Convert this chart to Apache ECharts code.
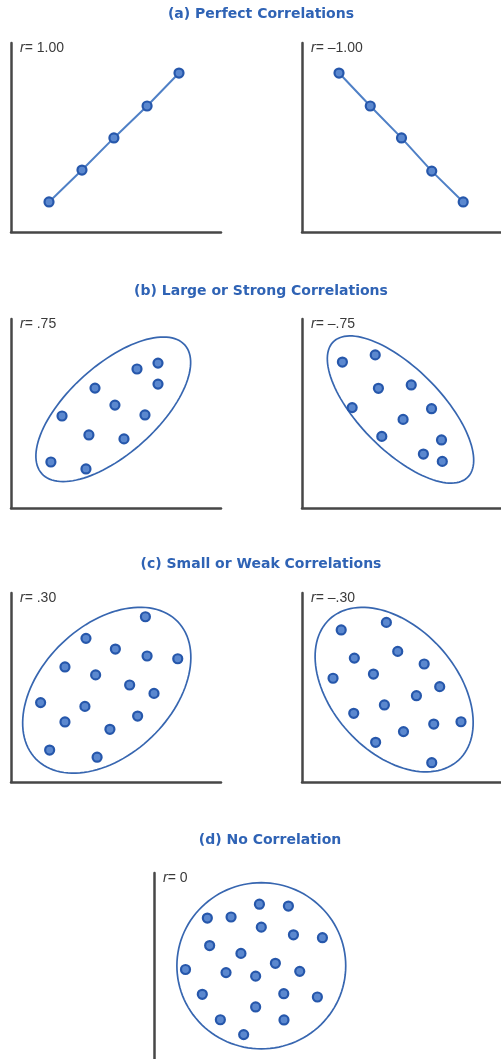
<!DOCTYPE html>
<html>
<head>
<meta charset="utf-8">
<title>Correlations</title>
<script src="https://cdn.jsdelivr.net/npm/echarts@6/dist/echarts.min.js"></script>
<style>
    html, body { margin: 0; padding: 0; background: #ffffff; }
    #chart { width: 501px; height: 1059px; }
</style>
</head>
<body>
<div id="chart"></div>
<script>
/*
|--------------------------------------------------------------------------
| Data (x 0..10, y 0..9 on every panel)
|--------------------------------------------------------------------------
*/

const sectionTitles = [
    '(a) Perfect Correlations',
    '(b) Large or Strong Correlations',
    '(c) Small or Weak Correlations',
    '(d) No Correlation',
];

const panelLabels = ['1.00', '\u20131.00', '.75', '\u2013.75', '.30', '\u2013.30', '0'];

const perfectPositive = [[1.81, 1.43], [3.38, 2.95], [4.9, 4.48], [6.48, 6.0], [8.0, 7.57]];
const perfectNegative = [[1.86, 7.57], [3.43, 6.0], [5.0, 4.48], [6.52, 2.9], [8.1, 1.43]];

const strongPositive = [
    [1.9, 2.19], [3.57, 1.86], [2.43, 4.38], [3.71, 3.48], [4.0, 5.71], [4.95, 4.9],
    [5.38, 3.29], [6.0, 6.62], [7.0, 6.9], [7.0, 5.9], [6.38, 4.43],
];
const strongNegative = [
    [2.03, 6.95], [3.68, 7.29], [3.84, 5.7], [5.49, 5.86], [2.52, 4.78], [6.51, 4.73],
    [5.08, 4.22], [4.01, 3.41], [7.01, 3.24], [6.1, 2.57], [7.05, 2.22],
];

const weakPositive = [
    [6.4, 7.87], [3.57, 6.84], [4.97, 6.33], [6.48, 6.0], [7.94, 5.87], [2.57, 5.48],
    [4.03, 5.1], [5.65, 4.62], [6.81, 4.22], [1.41, 3.78], [3.52, 3.6], [2.57, 2.86],
    [6.03, 3.14], [4.71, 2.51], [1.84, 1.52], [4.1, 1.18],
];
const weakNegative = [
    [1.97, 7.24], [4.24, 7.6], [4.81, 6.22], [2.63, 5.9], [6.14, 5.62], [3.59, 5.14],
    [1.56, 4.94], [6.92, 4.54], [5.75, 4.11], [4.14, 3.67], [2.6, 3.27], [7.99, 2.87],
    [6.62, 2.76], [5.1, 2.4], [3.7, 1.89], [6.52, 0.92],
];

const noCorrelation = [
    [5.02, 7.49], [6.4, 7.4], [2.54, 6.82], [3.67, 6.87], [5.11, 6.38], [6.64, 6.01],
    [8.02, 5.87], [2.65, 5.49], [4.14, 5.11], [5.78, 4.63], [1.5, 4.33], [3.43, 4.18],
    [4.84, 4.01], [6.94, 4.24], [2.3, 3.13], [6.18, 3.16], [7.78, 3.0], [4.84, 2.52],
    [3.16, 1.9], [6.19, 1.89], [4.27, 1.18],
];

// Envelopes: [centerX, centerY, semiMajor, semiMinor, angle in degrees]
const envelopes = [
    null,
    null,
    [4.87, 4.7, 4.58, 2.11, 42],
    [4.95, 4.69, 4.67, 2.0, -43],
    [4.56, 4.37, 4.7, 3.09, 44],
    [4.63, 4.4, 4.67, 3.05, -44],
    [5.11, 4.51, 4.02, 4.02, 0],
];

/*
|--------------------------------------------------------------------------
| Layout & styles
|--------------------------------------------------------------------------
*/

const panelPoints = [
    perfectPositive, perfectNegative,
    strongPositive, strongNegative,
    weakPositive, weakNegative,
    noCorrelation,
];

// Grid boxes of the 7 panels (left, top)
const panelBoxes = [
    [11, 43], [302, 43],
    [11, 319], [302, 319],
    [11, 593], [302, 593],
    [154, 873],
];
const PANEL_W = 210;
const PANEL_H = 189;

const titleCenters = [[261, 7], [261, 284], [261, 557], [270, 833]];

const blue = '#2f63b5';
const dotFill = '#5b88cf';
const dotBorder = '#2657ab';
const axisColor = '#474747';
const labelFont = 'Liberation Sans, Arial, sans-serif';

/*
|--------------------------------------------------------------------------
| Options
|--------------------------------------------------------------------------
*/

function ellipseRenderItem(params, api) {
    const c = api.coord([api.value(0), api.value(1)]);
    const s = api.size([1, 1]);
    const a = api.value(2);
    const b = api.value(3);
    const t = api.value(4) * Math.PI / 180;
    const points = [];
    for (let k = 0; k < 120; k++) {
        const u = 2 * Math.PI * k / 120;
        const dx = a * Math.cos(u) * Math.cos(t) - b * Math.sin(u) * Math.sin(t);
        const dy = a * Math.cos(u) * Math.sin(t) + b * Math.sin(u) * Math.cos(t);
        points.push([c[0] + dx * s[0], c[1] - dy * s[1]]);
    }
    return {
        type: 'polygon',
        shape: { points },
        style: { fill: 'none', stroke: '#3766b0', lineWidth: 1.7 },
    };
}

function buildOption() {
    const grid = [], xAxis = [], yAxis = [], series = [], title = [];

    const plainAxis = {
        type: 'value',
        axisLine: { show: true, onZero: false, lineStyle: { color: axisColor, width: 2.5 } },
        axisTick: { show: false },
        axisLabel: { show: false },
        splitLine: { show: false },
    };

    sectionTitles.forEach((text, i) => {
        title.push({
            text,
            left: titleCenters[i][0],
            top: titleCenters[i][1],
            textAlign: 'center',
            padding: 0,
            textStyle: {
                fontFamily: 'DejaVu Sans, sans-serif',
                fontSize: 14,
                fontWeight: 'bold',
                color: blue,
            },
        });
    });

    panelBoxes.forEach(([left, top], i) => {
        grid.push({ left, top, width: PANEL_W, height: PANEL_H, containLabel: false });
        xAxis.push({ ...plainAxis, gridIndex: i, min: 0, max: 10 });
        yAxis.push({ ...plainAxis, gridIndex: i, min: 0, max: 9 });

        // Bottom panel: the x axis falls below the picture
        if (i === 6) xAxis[i].axisLine = { show: false };

        title.push({
            text: `{i|r}{n|= ${panelLabels[i]}}`,
            left: left + 9,
            top: top - 2,
            padding: 0,
            textStyle: {
                rich: {
                    i: { fontFamily: labelFont, fontStyle: 'italic', fontWeight: 'normal', fontSize: 14, color: '#3a3a3a' },
                    n: { fontFamily: labelFont, fontWeight: 'normal', fontSize: 14, color: '#3a3a3a' },
                },
            },
        });

        // Perfect correlations are joined by a line
        if (i < 2) {
            series.push({
                type: 'line',
                xAxisIndex: i,
                yAxisIndex: i,
                data: panelPoints[i],
                symbol: 'none',
                lineStyle: { color: '#4f80c6', width: 2 },
                silent: true,
                z: 2,
            });
        }

        if (envelopes[i]) {
            series.push({
                type: 'custom',
                xAxisIndex: i,
                yAxisIndex: i,
                data: [envelopes[i]],
                renderItem: ellipseRenderItem,
                silent: true,
                z: 1,
            });
        }

        series.push({
            type: 'scatter',
            xAxisIndex: i,
            yAxisIndex: i,
            data: panelPoints[i],
            symbolSize: 9,
            itemStyle: { color: dotFill, borderColor: dotBorder, borderWidth: 2.2, opacity: 1 },
            z: 3,
        });
    });

    return { animation: false, backgroundColor: '#ffffff', title, grid, xAxis, yAxis, series };
}

/*
|--------------------------------------------------------------------------
| Bootstrap
|--------------------------------------------------------------------------
*/

function init() {
    const chart = echarts.init(document.getElementById('chart'), null, { renderer: 'canvas' });
    chart.setOption(buildOption());
}

init();
</script>
</body>
</html>
